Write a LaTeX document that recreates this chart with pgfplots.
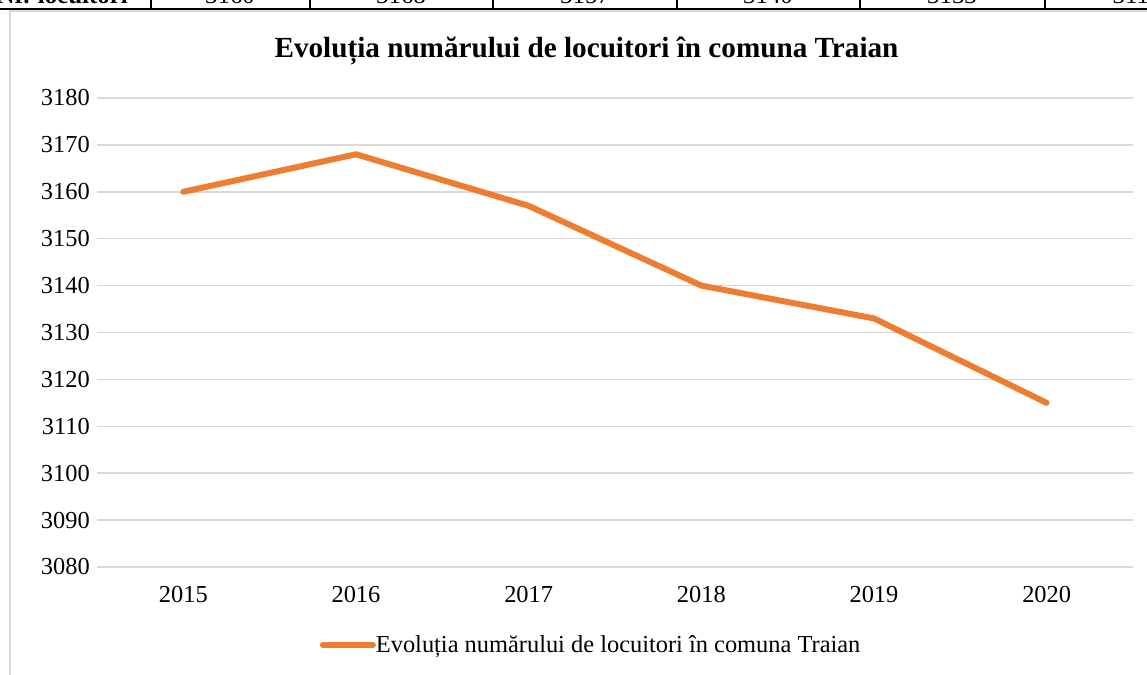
\documentclass[border=0pt]{standalone}
\usepackage{pgfplots}
\pgfplotsset{compat=1.18}
\usepackage{fontspec}
\setmainfont{Liberation Serif}
\definecolor{lineorange}{HTML}{ED7D31}
\definecolor{gridgray}{HTML}{D9D9D9}
\begin{document}
\begin{tikzpicture}[x=1bp,y=1bp]
\useasboundingbox (0,0) rectangle (1147,675);
% partially visible table above the chart
\draw[black, line width=1.5bp] (0,666) -- (1147,666);
\foreach \xx in {151,310,493,677,860,1045} {\draw[black, line width=1.2bp] (\xx,666) -- (\xx,680);}
\node[anchor=base east, inner sep=0pt, font=\fontsize{25}{30}\selectfont\bfseries] at (128,671) {Nr. locuitori};
\foreach \xx/\tt in {230/3160,401/3168,585/3157,768/3140,952/3133,1137/3115} {\node[anchor=base, inner sep=0pt, font=\fontsize{25}{30}\selectfont] at (\xx,671) {\tt};}
% chart frame
\draw[gridgray, line width=1.5bp] (10,-10) -- (10,664) -- (1160,664);
% title
\node[font=\fontsize{29.3}{34}\selectfont\bfseries, inner sep=0pt] at (586.5,624) {Evoluția numărului de locuitori în comuna Traian};
\begin{axis}[
  at={(97bp,108bp)}, anchor=south west,
  scale only axis, width=1036bp, height=469bp,
  xmin=-0.5, xmax=5.5, ymin=3080, ymax=3180,
  ytick={3080,3090,...,3180},
  xtick={0,1,2,3,4,5},
  xticklabels={2015,2016,2017,2018,2019,2020},
  axis line style={draw=none},
  major tick style={draw=none},
  ymajorgrids,
  grid style={gridgray, line width=1.5bp},
  /pgf/number format/assume math mode=true,
  /pgf/number format/1000 sep={},
  tick label style={font=\fontsize{24.5}{29}\selectfont, inner sep=0pt},
  yticklabel shift=7bp,
  xticklabel shift=19bp,
  clip=false,
  legend style={at={(0.476,-0.166)}, anchor=center, draw=none, fill=none,
    font=\fontsize{24.5}{29}\selectfont, inner sep=0pt,
    nodes={inner sep=0pt},
    /tikz/every even column/.append style={column sep=4bp}},
  legend image code/.code={\draw[#1,line cap=round] (0bp,0bp) -- (50bp,0bp);},
]
\addplot[lineorange, line width=6bp, line join=round, line cap=round] coordinates {(0,3160) (1,3168) (2,3157) (3,3140) (4,3133) (5,3115)};
\addlegendentry{Evoluția numărului de locuitori în comuna Traian}
\end{axis}
\end{tikzpicture}
\end{document}
